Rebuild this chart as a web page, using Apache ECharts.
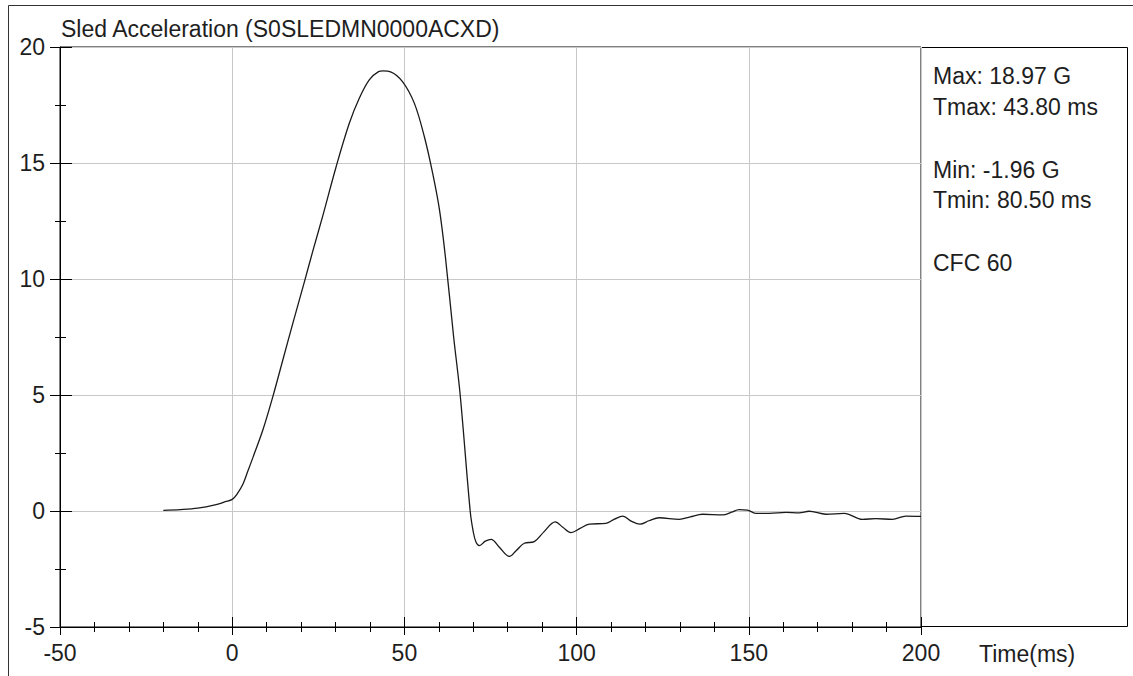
<!DOCTYPE html>
<html>
<head>
<meta charset="utf-8">
<script src="https://cdn.jsdelivr.net/npm/echarts/dist/echarts.min.js"></script>
<style>
html,body{margin:0;padding:0;background:#fff;}
#chart{width:1133px;height:676px;}
</style>
</head>
<body>
<div id="chart"></div>
<script>
// ---- data ----
const chartTitle = 'Sled Acceleration (S0SLEDMN0000ACXD)';
const xAxisName = 'Time(ms)';
const timeMs = [-20, -15, -10, -5, -2, 0, 1.5, 3.1, 4.5, 6, 8.9, 11.8, 14.7, 17.6, 21, 23.4, 26.3, 30.2, 34, 36.9, 39.8, 42.5, 43.8, 46.0, 49.5, 52.9, 55.8, 58.2, 60.2, 61.9, 64.3, 66.2, 69.1, 70.0, 70.8, 71.8, 73.5, 75.2, 77.5, 80.5, 82.5, 84.8, 87.7, 90.5, 93.8, 96, 98.4, 101, 103.7, 108.5, 111, 113.4, 116, 118.4, 121, 124, 129.8, 133, 136.6, 142.4, 145, 147.2, 149.6, 152, 155.9, 160.8, 164.6, 167.5, 172.4, 177.7, 183, 186.9, 191.7, 195.6, 200];
const accelG = [0.03, 0.06, 0.12, 0.26, 0.4, 0.5, 0.75, 1.15, 1.7, 2.3, 3.49, 4.93, 6.51, 8.09, 9.9, 11.2, 12.72, 14.85, 16.71, 17.79, 18.58, 18.94, 18.97, 18.93, 18.5, 17.57, 16.13, 14.56, 12.97, 10.96, 7.5, 5.0, 0.0, -0.9, -1.35, -1.49, -1.3, -1.22, -1.55, -1.96, -1.7, -1.39, -1.32, -0.9, -0.47, -0.7, -0.93, -0.75, -0.57, -0.53, -0.35, -0.22, -0.45, -0.57, -0.42, -0.29, -0.36, -0.25, -0.14, -0.17, -0.05, 0.06, 0.04, -0.1, -0.1, -0.06, -0.08, -0.01, -0.14, -0.1, -0.36, -0.33, -0.36, -0.22, -0.23];
const xTicks = {min: -50, max: 200, interval: 50};
const yTicks = {min: -5, max: 20, interval: 5};
const statLines = ['Max: 18.97 G', 'Tmax: 43.80 ms', '', 'Min: -1.96 G', 'Tmin: 80.50 ms', '', 'CFC 60'];

// ---- chart ----
const FONT = '"Liberation Sans", Arial, sans-serif';
const TXT = '#1e1e1e';
const chart = echarts.init(document.getElementById('chart'), null, {renderer: 'svg'});
const seriesData = timeMs.map((t, i) => [t, accelG[i]]);

const statY = [76, 107, 138, 170, 200, 231, 263];
const statGraphics = statLines.map((s, i) => s ? ({
  type: 'text', left: 933, top: statY[i] - 12,
  style: {text: s, font: '23px ' + FONT, fill: TXT}
}) : null).filter(Boolean);

chart.setOption({
  animation: false,
  backgroundColor: '#fff',
  title: {
    text: chartTitle, left: 61, top: 17, padding: 0,
    textStyle: {fontFamily: FONT, fontSize: 23, fontWeight: 'normal', color: TXT}
  },
  grid: {left: 60, top: 47, right: 212, bottom: 49, show: true, borderColor: '#000', borderWidth: 1, backgroundColor: 'transparent'},
  xAxis: [{
    type: 'value', position: 'bottom', min: xTicks.min, max: xTicks.max, interval: xTicks.interval,
    axisLine: {show: true, onZero: false, lineStyle: {color: '#000', width: 1}},
    axisTick: {show: true, length: 8, lineStyle: {color: '#000'}},
    minorTick: {show: true, splitNumber: 5, length: 5, lineStyle: {color: '#000'}},
    axisLabel: {margin: 14, fontFamily: FONT, fontSize: 23, color: TXT, showMinLabel: true, showMaxLabel: true},
    splitLine: {show: true, lineStyle: {color: '#c8c8c8', width: 1}}
  }, {
    type: 'value', position: 'bottom', min: xTicks.min, max: xTicks.max, interval: xTicks.interval,
    axisLine: {show: false, onZero: false},
    axisTick: {show: true, inside: true, length: 10, lineStyle: {color: '#000'}},
    minorTick: {show: true, splitNumber: 5, length: 5, lineStyle: {color: '#000'}},
    axisLabel: {show: false}, splitLine: {show: false}
  }],
  yAxis: [{
    type: 'value', position: 'left', min: yTicks.min, max: yTicks.max, interval: yTicks.interval,
    axisLine: {show: true, onZero: false, lineStyle: {color: '#000', width: 1}},
    axisTick: {show: true, length: 10, lineStyle: {color: '#000'}},
    minorTick: {show: true, splitNumber: 2, length: 5, lineStyle: {color: '#000'}},
    axisLabel: {margin: 15, fontFamily: FONT, fontSize: 23, color: TXT, showMinLabel: true, showMaxLabel: true},
    splitLine: {show: true, lineStyle: {color: '#c8c8c8', width: 1}}
  }, {
    type: 'value', position: 'left', min: yTicks.min, max: yTicks.max, interval: yTicks.interval,
    axisLine: {show: false, onZero: false},
    axisTick: {show: true, inside: true, length: 12, lineStyle: {color: '#000'}},
    minorTick: {show: true, splitNumber: 2, length: 6, lineStyle: {color: '#000'}},
    axisLabel: {show: false}, splitLine: {show: false}
  }],
  series: [{
    type: 'line', xAxisIndex: 0, yAxisIndex: 0, data: seriesData,
    showSymbol: false, smooth: 0.35, clip: true,
    lineStyle: {color: '#1a1a1a', width: 1.3}
  }],
  graphic: [
    {type: 'rect', shape: {x: 8.5, y: 5.5, width: 1200, height: 720}, style: {fill: 'none', stroke: '#333', lineWidth: 1}, silent: true, z: -1},
    {type: 'rect', shape: {x: 921.5, y: 47.5, width: 206, height: 579}, style: {fill: 'none', stroke: '#000', lineWidth: 1}, silent: true},
    {type: 'text', left: 979, top: 642, style: {text: xAxisName, font: '23px ' + FONT, fill: TXT}}
  ].concat(statGraphics)
});
</script>
</body>
</html>
